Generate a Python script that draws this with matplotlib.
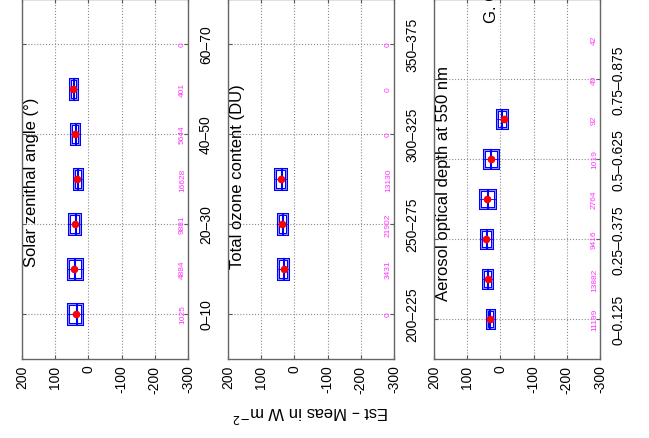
import matplotlib
matplotlib.use("Agg")
import matplotlib.pyplot as plt
from matplotlib.patches import Rectangle

plt.rcParams['font.family'] = ['Liberation Sans', 'DejaVu Sans']

# ---- data ----
sza_labels = ['0–10', '20–30', '40–50', '60–70']
sza_counts = [1025, 4884, 9881, 16628, 5644, 401, 0]
sza_q1 = [20, 20, 24, 20, 28, 35]
sza_q3 = [60, 62, 57, 44, 51, 55]
sza_med = [33, 40, 36, 31, 37, 42]
sza_mean = [37, 43, 40, 34, 39, 45]

oz_labels = ['200–225', '250–275', '300–325', '350–375']
oz_counts = [0, 3431, 21902, 13130, 0, 0, 0]
oz_pos = [2, 3, 4]
oz_q1 = [20, 22, 24]
oz_q3 = [48, 50, 59]
oz_med = [30, 35, 36]
oz_mean = [32, 38, 41]

aod_labels = ['0–0.125', '0.25–0.375', '0.5–0.625', '0.75–0.875']
aod_counts = [11199, 13882, 9416, 2764, 1019, 92, 49, 42]
aod_q1 = [20, 25, 25, 17, 6, -19]
aod_q3 = [41, 53, 58, 60, 50, 11]
aod_med = [30, 36, 40, 38, 27, -5]
aod_mean = [32, 38, 42, 40, 29, -10]

titles = ['Solar zenithal angle (°)', 'Total ozone content (DU)',
          'Aerosol optical depth at 550 nm']
value_ticks = [200, 100, 0, -100, -200, -300]

W, H = 649, 439
fig = plt.figure(figsize=(W / 100, H / 100), dpi=100)

panels = [
    dict(left=22, ymax=8, labels=sza_labels, counts=sza_counts,
         pos=list(range(1, 7)), q1=sza_q1, q3=sza_q3, med=sza_med, mean=sza_mean,
         title_y=2.07),
    dict(left=228, ymax=8, labels=oz_labels, counts=oz_counts,
         pos=oz_pos, q1=oz_q1, q3=oz_q3, med=oz_med, mean=oz_mean,
         title_y=2.02),
    dict(left=434, ymax=9, labels=aod_labels, counts=aod_counts,
         pos=list(range(1, 7)), q1=aod_q1, q3=aod_q3, med=aod_med, mean=aod_mean,
         title_y=1.48),
]

axw = 166
axbottom = 360
for p, title in zip(panels, titles):
    ax = fig.add_axes([p['left'] / W, (H - axbottom) / H, axw / W, axbottom / H])
    ax.set_xlim(200, -300)
    ax.set_ylim(0, p['ymax'])
    ax.set_xticks(value_ticks)
    ax.set_xticklabels([str(v) for v in value_ticks], rotation=90, fontsize=10)
    ax.set_yticks([1, 3, 5, 7])
    ax.set_yticklabels(p['labels'], rotation=90, fontsize=10)
    ax.tick_params(axis='y', left=True, right=True, labelleft=False, labelright=True,
                   direction='in', length=3, pad=8, color='0.35')
    ax.tick_params(axis='x', bottom=True, top=True, direction='in', length=3, pad=4,
                   color='0.35')
    for lab in ax.get_yticklabels():
        lab.set_verticalalignment('center')
        lab.set_horizontalalignment('left')
    ax.grid(True, linestyle=':', color='0.55', linewidth=0.8)
    ax.set_axisbelow(True)
    for s in ax.spines.values():
        s.set_color('0.4')
        s.set_linewidth(1.0)

    hw = 0.22
    for y, a, b, m, mu in zip(p['pos'], p['q1'], p['q3'], p['med'], p['mean']):
        ax.add_patch(Rectangle((a, y - hw), b - a, 2 * hw, fill=False,
                               edgecolor='#0000ff', linewidth=2.2, zorder=3))
        ax.add_patch(Rectangle((a, y - hw), b - a, 2 * hw, fill=False,
                               edgecolor='#a8a8ff', linewidth=0.6, zorder=3))
        ax.plot([m, m], [y - hw, y + hw], color='#0000ff', linewidth=1.5, zorder=4)
        ax.plot([a, b], [y, y], color='#0000ff', linewidth=0.6, zorder=4)
        ax.plot([mu], [y], 'o', color='red', markersize=5.5, markeredgewidth=0, zorder=5)

    for i, c in enumerate(p['counts']):
        ax.text(-283, i + 1, str(c), rotation=90, ha='center', va='center',
                fontsize=6, color='#ff33ff')

    ax.text(170, p['title_y'], title, rotation=90, ha='center', va='bottom', fontsize=12)

fig.text(311 / W, (H - 413) / H, r'Est – Meas in W m$^{-2}$', rotation=180,
         ha='center', va='center', fontsize=12)
fig.text(491 / W, (H - 23) / H, 'G. G', rotation=90, ha='center', va='bottom',
         fontsize=12)

fig.savefig('out.png', dpi=100)
